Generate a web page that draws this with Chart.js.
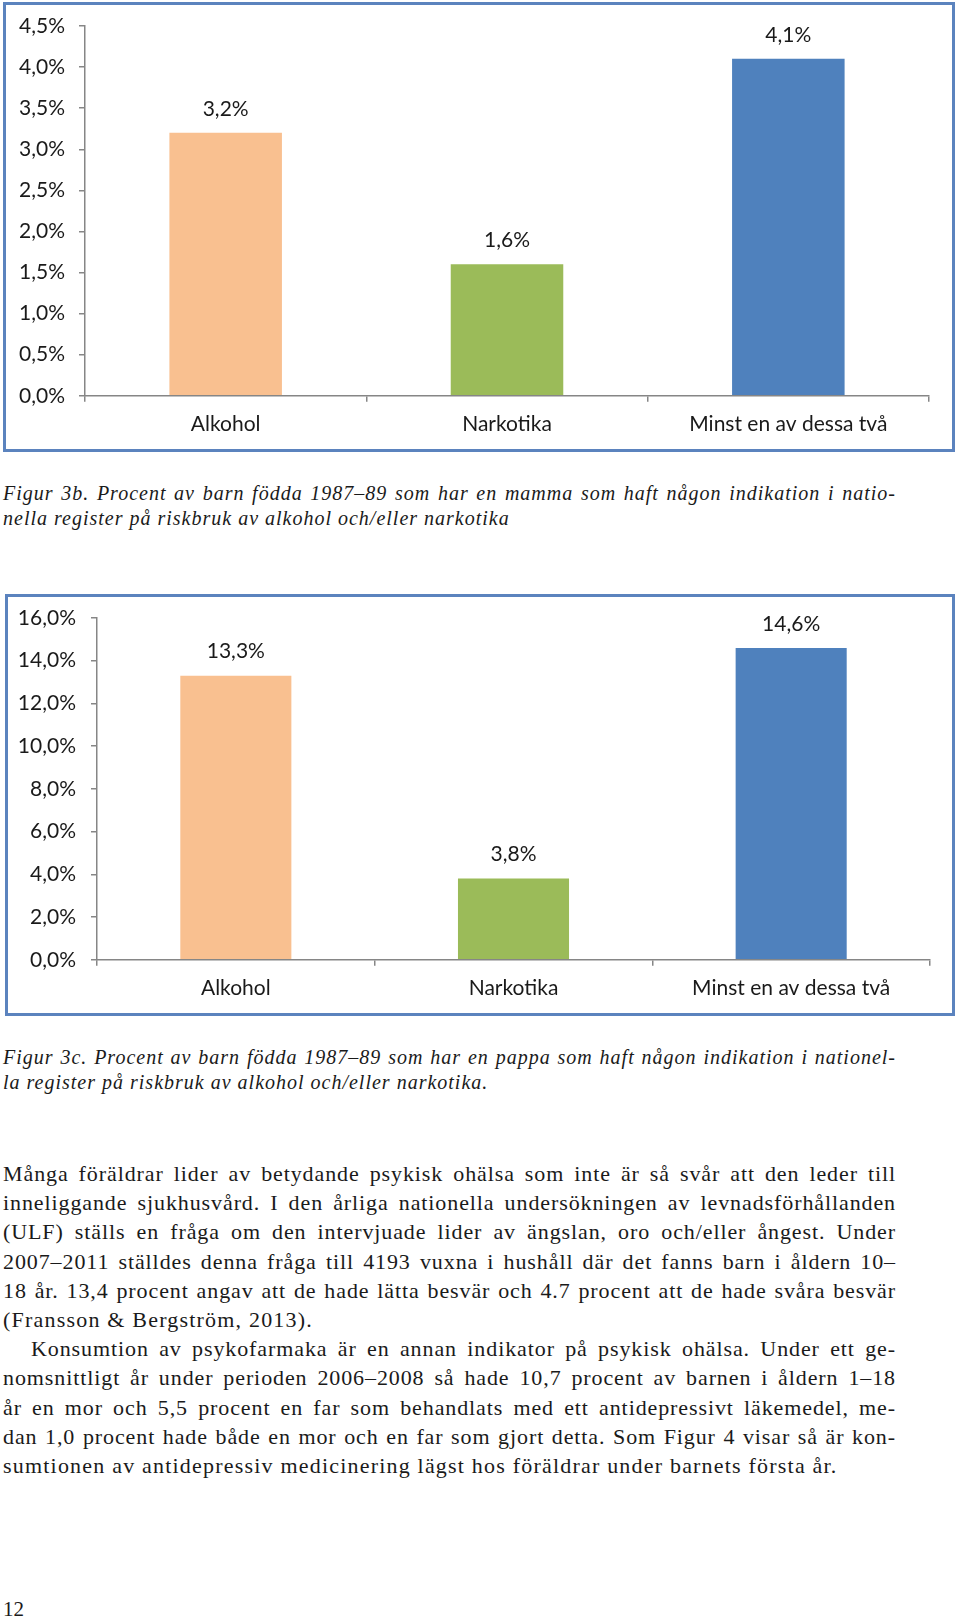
<!DOCTYPE html>
<html lang="sv">
<head>
<meta charset="utf-8">
<title>Figur 3b och 3c</title>
<script src="https://cdn.jsdelivr.net/npm/chart.js@4.4.1/dist/chart.umd.min.js"></script>
<style>
	html, body { margin: 0; padding: 0; background: #fff; }
	body { width: 960px; height: 1620px; position: relative; overflow: hidden; color: #1a1a1a; }
	.ruta { position: absolute; border: 3px solid #5b83be; box-sizing: border-box; background: #fff; }
	.ruta canvas { display: block; }
	.text { position: absolute; left: 3px; width: 893px; font-family: "Liberation Serif", "Times New Roman", serif; }
	.text div { white-space: nowrap; }
	.text .j { text-align: justify; text-align-last: justify; white-space: normal; }
	.caption { font-style: italic; font-size: 20px; line-height: 25px; letter-spacing: 1px; }
	.brod { font-size: 22px; line-height: 29.2px; letter-spacing: 0.9px; }
	.brod .sist { letter-spacing: 1.2px; }
	.indrag { text-indent: 28px; }
	.sidnr { position: absolute; left: 3px; top: 1597px; font-family: "Liberation Serif", serif; font-size: 21px; }
</style>
</head>
<body>

<div class="ruta" style="left:3px; top:2px; width:952px; height:450px;">
	<canvas id="mammaChart"></canvas>
</div>

<div class="text caption" style="top:481px;">
	<div class="j">Figur 3b. Procent av barn födda 1987–89 som har en mamma som haft någon indikation i natio-</div>
	<div>nella register på riskbruk av alkohol och/eller narkotika</div>
</div>

<div class="ruta" style="left:5px; top:594px; width:950px; height:422px;">
	<canvas id="pappaChart"></canvas>
</div>

<div class="text caption" style="top:1045px;">
	<div class="j">Figur 3c. Procent av barn födda 1987–89 som har en pappa som haft någon indikation i nationel-</div>
	<div>la register på riskbruk av alkohol och/eller narkotika.</div>
</div>

<div class="text brod" style="top:1159px;">
	<div class="j">Många föräldrar lider av betydande psykisk ohälsa som inte är så svår att den leder till</div>
	<div class="j">inneliggande sjukhusvård. I den årliga nationella undersökningen av levnadsförhållanden</div>
	<div class="j">(ULF) ställs en fråga om den intervjuade lider av ängslan, oro och/eller ångest. Under</div>
	<div class="j">2007–2011 ställdes denna fråga till 4193 vuxna i hushåll där det fanns barn i åldern 10–</div>
	<div class="j">18 år. 13,4 procent angav att de hade lätta besvär och 4.7 procent att de hade svåra besvär</div>
	<div class="sist">(Fransson &amp; Bergström, 2013).</div>
	<div class="j indrag">Konsumtion av psykofarmaka är en annan indikator på psykisk ohälsa. Under ett ge-</div>
	<div class="j">nomsnittligt år under perioden 2006–2008 så hade 10,7 procent av barnen i åldern 1–18</div>
	<div class="j">år en mor och 5,5 procent en far som behandlats med ett antidepressivt läkemedel, me-</div>
	<div class="j">dan 1,0 procent hade både en mor och en far som gjort detta. Som Figur 4 visar så är kon-</div>
	<div class="sist">sumtionen av antidepressiv medicinering lägst hos föräldrar under barnets första år.</div>
</div>

<div class="sidnr">12</div>

<script>
// kategorier (samma i båda figurerna)
const kategorier = ['Alkohol', 'Narkotika', 'Minst en av dessa två'];
const stapelFarger = ['#f9c090', '#9bbb59', '#4f81bd'];

// Figur 3b - mamma
const mammaVarden = [3.2, 1.6, 4.1];
const mammaMax = 4.5;
const mammaSteg = 0.5;

// Figur 3c - pappa
const pappaVarden = [13.3, 3.8, 14.6];
const pappaMax = 16;
const pappaSteg = 2;

const axelFarg = '#868686';
const typsnitt = 'Lato, "Open Sans", sans-serif';

Chart.defaults.font.family = typsnitt;
Chart.defaults.font.size = 21;
Chart.defaults.color = '#1a1a1a';

function procent(v) {
	return Number(v).toFixed(1).replace('.', ',') + '%';
}

// skriver värdet ovanför varje stapel
const stapelEtiketter = {
	id: 'stapelEtiketter',
	afterDatasetsDraw(chart) {
		const ctx = chart.ctx;
		const meta = chart.getDatasetMeta(0);
		ctx.save();
		ctx.font = '21px ' + typsnitt;
		ctx.fillStyle = '#1a1a1a';
		ctx.textAlign = 'center';
		ctx.textBaseline = 'middle';
		meta.data.forEach((bar, i) => {
			ctx.fillText(procent(chart.data.datasets[0].data[i]), bar.x, bar.y - 24);
		});
		ctx.restore();
	}
};

function ritaStapel(id, varden, max, steg, yBredd, yPad, pad) {
	const ctx = document.getElementById(id).getContext('2d');
	return new Chart(ctx, {
		type: 'bar',
		data: {
			labels: kategorier,
			datasets: [{
				data: varden,
				backgroundColor: stapelFarger,
				borderWidth: 0,
				barPercentage: 0.4,
				categoryPercentage: 1
			}]
		},
		options: {
			responsive: true,
			maintainAspectRatio: false,
			animation: false,
			layout: { padding: pad },
			plugins: {
				legend: { display: false },
				tooltip: { enabled: false }
			},
			scales: {
				x: {
					border: { color: axelFarg, width: 1.5 },
					grid: { drawOnChartArea: false, drawTicks: true, tickLength: 6, color: axelFarg, lineWidth: 1.5 },
					ticks: { padding: 10 }
				},
				y: {
					min: 0,
					max: max,
					border: { color: axelFarg, width: 1.5 },
					grid: { drawOnChartArea: false, drawTicks: true, tickLength: 6, color: axelFarg, lineWidth: 1.5 },
					ticks: {
						stepSize: steg,
						padding: yPad,
						callback: v => procent(v)
					},
					afterFit(scale) {
						// fast bredd, och ingen extra luft ovanför översta etiketten
						scale.width = yBredd;
						scale.paddingTop = 0;
						scale.paddingBottom = 0;
					}
				}
			}
		},
		plugins: [stapelEtiketter]
	});
}

ritaStapel('mammaChart', mammaVarden, mammaMax, mammaSteg, 79, 14, { top: 21, right: 23, bottom: 2, left: 0 });
ritaStapel('pappaChart', pappaVarden, pappaMax, pappaSteg, 89, 15, { top: 21, right: 22, bottom: 2, left: 0 });
</script>
</body>
</html>
